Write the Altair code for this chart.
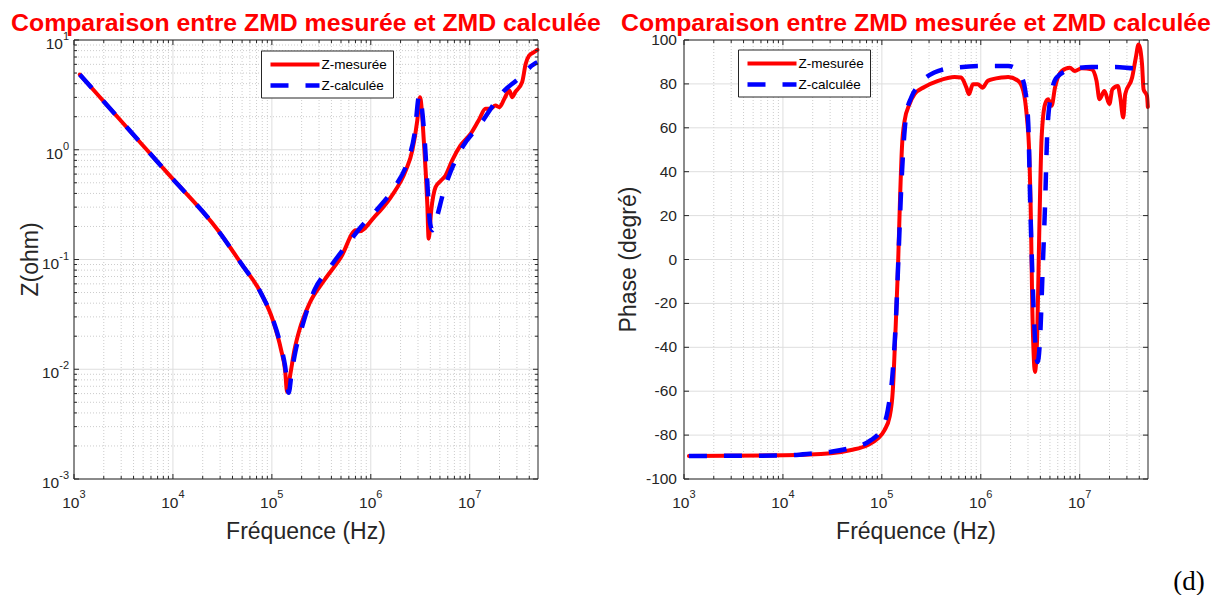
import altair as alt
import pandas as pd

TITLE = "Comparaison entre ZMD mesurée et ZMD calculée"
SERIES = ["Z-mesurée", "Z-calculée"]
COLORS = ["#ff0000", "#0000ff"]
X_TITLE = "Fréquence (Hz)"
Y_TITLES = ["Z(ohm)", "Phase (degré)"]

# ---- Left panel: |Z| (ohm) vs frequency (Hz) ----
zm_freq = [1146, 4797, 8913, 28510, 48980, 77980, 102300, 124200, 136100, 142600,
           154200, 169000, 189700, 239900, 338800, 501200, 707900, 765600, 1.084e6,
           1.596e6, 2.259e6, 2.63e6, 2.951e6, 3.141e6, 3.451e6, 3.724e6, 3.846e6,
           4.083e6, 4.519e6, 5.07e6, 5.702e6, 6.653e6, 8.072e6, 1.023e7, 1.23e7,
           1.445e7, 1.622e7, 1.82e7, 1.995e7, 2.239e7, 2.512e7, 2.692e7, 2.884e7,
           3.388e7, 3.681e7, 3.981e7, 4.467e7, 4.83e7]
zm_val = [4.84, 1.135, 0.605, 0.1845, 0.0918, 0.049, 0.028, 0.0149, 0.0098, 0.00624,
          0.00916, 0.0149, 0.0227, 0.0397, 0.0647, 0.1054, 0.1845, 0.1807, 0.2438,
          0.3707, 0.6486, 0.986, 1.849, 3.013, 1.135, 0.3228, 0.1549,
          0.2805, 0.4571, 0.5188, 0.5834, 0.80, 1.094, 1.40, 1.849,
          2.36, 2.36, 2.53, 2.443, 2.911, 3.467, 3.013, 3.35,
          4.13, 6.067, 7.21, 7.74, 8.13]
zc_freq = [1146, 4797, 8913, 28510, 48980, 77980, 102300, 124200, 136100, 147900,
           158500, 173800, 199500, 269200, 367300, 537000, 794300, 1.175e6, 1.738e6,
           2.377e6, 2.773e6, 3.09e6, 3.467e6, 3.715e6, 3.981e6, 4.207e6, 4.467e6,
           5.495e6, 8.072e6, 1.288e7, 2.239e7, 2.951e7, 4.467e7, 4.83e7]
zc_val = [4.84, 1.135, 0.605, 0.1845, 0.0918, 0.049, 0.0285, 0.0158, 0.0107, 0.00611,
          0.00933, 0.0148, 0.0234, 0.0525, 0.0798, 0.1259, 0.1977, 0.2904, 0.4571,
          0.80, 1.40, 3.119, 1.40, 0.526, 0.2123, 0.1845, 0.2138,
          0.4266, 0.986, 1.726, 3.467, 4.266, 6.026, 6.266]

# ---- Right panel: phase (degrees) vs frequency (Hz) ----
pm_freq = [1122, 10230, 30620, 48870, 72110, 91200, 106400, 119700, 129100, 136500,
           145200, 152100, 159600, 169800, 190500, 213800, 269200, 369800, 544500,
           631000, 716100, 758600, 831800, 933300, 1.047e6, 1.175e6, 1.622e6, 1.892e6,
           2.388e6, 2.692e6, 2.904e6, 3.09e6, 3.214e6, 3.311e6, 3.42e6, 3.524e6,
           3.715e6, 3.89e6, 4.121e6, 4.467e6, 4.786e6, 5.2e6, 5.623e6, 6.577e6,
           7.943e6, 8.913e6, 1.047e7, 1.318e7, 1.479e7, 1.585e7, 1.778e7, 1.995e7,
           2.138e7, 2.427e7, 2.57e7, 2.754e7, 2.884e7, 3.388e7, 3.69e7, 3.936e7,
           4.266e7, 4.416e7, 4.786e7, 4.88e7]
pm_val = [-89.5, -89.2, -88.3, -86.8, -84.5, -81.5, -77.7, -71.7, -59.5, -35.3,
          -5.0, 25.3, 51.0, 63.2, 70.8, 75.3, 78.6, 81.4, 83.2,
          82.9, 78.3, 75.3, 79.8, 79.8, 78.3, 81.4, 82.9, 83.2,
          81.4, 76.8, 66.2, 48.0, 17.7, -20.2, -42.9, -51.2,
          -35.3, 10.0, 55.6, 70.8, 73.0, 70.0, 78.3, 85.9,
          87.4, 85.9, 87.1, 86.7, 81.4, 73.0, 76.8, 70.8,
          77.6, 79.1, 73.8, 64.7, 75.3, 82.9, 92.0, 98.0,
          88.9, 77.6, 74.5, 69.5]
pc_freq = [1122, 10230, 20800, 30620, 48870, 77620, 97720, 114800, 129100, 139600,
           147600, 157000, 166000, 176600, 198200, 239900, 338800, 544500, 1.175e6,
           1.892e6, 2.291e6, 2.57e6, 2.818e6, 3.02e6, 3.162e6, 3.311e6, 3.524e6,
           3.75e6, 3.981e6, 4.217e6, 4.467e6, 4.677e6, 5.012e6, 5.848e6, 8.318e6,
           1.318e7, 2.291e7, 3.467e7, 4.88e7]
pc_val = [-89.5, -89.3, -88.3, -87.6, -85.8, -82.3, -77.7, -68.6, -50.5, -24.7,
          2.6, 32.9, 52.6, 66.2, 73.8, 79.8, 85.2, 87.4, 88.2,
          88.2, 86.7, 83.6, 76.8, 61.7, 25.3, -5.0, -35.3,
          -46.7, -35.3, -5.0, 25.3, 55.6, 72.3, 82.9, 86.7,
          87.7, 87.7, 87.1, 86.8]

# ---- scales, ticks and tick labels ----
X_DOMAIN = [1e3, 4.9e7]
X_MAJOR = [1e3, 1e4, 1e5, 1e6, 1e7]
X_EXP = ["3", "4", "5", "6", "7"]
X_MINOR = [m * 10.0 ** d for d in range(3, 8) for m in range(2, 10) if m * 10.0 ** d <= 4.9e7]
Z_DOMAIN = [1e-3, 1e1]
Z_MAJOR = [1e-3, 1e-2, 1e-1, 1e0, 1e1]
Z_EXP = ["-3", "-2", "-1", "0", "1"]
Z_MINOR = [m * 10.0 ** d for d in range(-3, 1) for m in range(2, 10)]
P_DOMAIN = [-100, 100]
P_MAJOR = [-100, -80, -60, -40, -20, 0, 20, 40, 60, 80, 100]
P_LABELS = ["-100", "-80", "-60", "-40", "-20", "0", "20", "40", "60", "80", "100"]

W, H = 464, 439
FONT = "Liberation Sans"
INK = "#262626"
GRID_MAJOR = "#dedede"
GRID_MINOR = "#cccccc"
LAB = 15.5   # tick label size
EXP = 11     # exponent size


def panel(ytype, ydomain, ymajor, yminor, ylabels, yexp, ytitle, ytitle_x,
          mes_f, mes_v, calc_f, calc_v, lx, ly, extra=None):
    xs = alt.Scale(type="log", domain=X_DOMAIN, nice=False)
    if ytype == "log":
        ys = alt.Scale(type="log", domain=ydomain, nice=False)
    else:
        ys = alt.Scale(type="linear", domain=ydomain, nice=False, zero=False)

    xq = lambda: alt.X("v:Q", scale=xs, axis=None)
    yq = lambda: alt.Y("v:Q", scale=ys, axis=None)

    xmaj = pd.DataFrame({"v": X_MAJOR, "base": ["10"] * len(X_MAJOR), "exp": X_EXP})
    xmin = pd.DataFrame({"v": X_MINOR})
    ymaj = pd.DataFrame({"v": ymajor})
    one = pd.DataFrame({"k": [0]})

    layers = []
    # minor grid (dotted)
    layers.append(alt.Chart(xmin).mark_rule(color=GRID_MINOR, strokeWidth=1, strokeDash=[1, 2])
                  .encode(x=xq()))
    if yminor:
        layers.append(alt.Chart(pd.DataFrame({"v": yminor}))
                      .mark_rule(color=GRID_MINOR, strokeWidth=1, strokeDash=[1, 2]).encode(y=yq()))
    # major grid
    layers.append(alt.Chart(xmaj).mark_rule(color=GRID_MAJOR, strokeWidth=1).encode(x=xq()))
    layers.append(alt.Chart(ymaj).mark_rule(color=GRID_MAJOR, strokeWidth=1).encode(y=yq()))

    # curves
    mes = pd.DataFrame({"f": mes_f, "v": mes_v})
    calc = pd.DataFrame({"f": calc_f, "v": calc_v})
    layers.append(alt.Chart(mes).mark_line(color=COLORS[0], strokeWidth=4, strokeJoin="round",
                                           strokeCap="round", interpolate="monotone")
                  .encode(x=alt.X("f:Q", scale=xs, axis=None), y=alt.Y("v:Q", scale=ys, axis=None)))
    layers.append(alt.Chart(calc).mark_line(color=COLORS[1], strokeWidth=4.5, strokeDash=[18, 17],
                                            strokeJoin="round", interpolate="monotone")
                  .encode(x=alt.X("f:Q", scale=xs, axis=None), y=alt.Y("v:Q", scale=ys, axis=None)))

    # inward ticks on all four sides
    tick = dict(color=INK, strokeWidth=1)
    for df, ln in ((xmaj, 5), (xmin, 3)):
        layers.append(alt.Chart(df).mark_rule(**tick).encode(x=xq(), y=alt.value(H), y2=alt.value(H - ln)))
        layers.append(alt.Chart(df).mark_rule(**tick).encode(x=xq(), y=alt.value(0), y2=alt.value(ln)))
    ydfs = [(ymaj, 5)]
    if yminor:
        ydfs.append((pd.DataFrame({"v": yminor}), 3))
    for df, ln in ydfs:
        layers.append(alt.Chart(df).mark_rule(**tick).encode(y=yq(), x=alt.value(0), x2=alt.value(ln)))
        layers.append(alt.Chart(df).mark_rule(**tick).encode(y=yq(), x=alt.value(W), x2=alt.value(W - ln)))

    # frame
    layers.append(alt.Chart(one).mark_rect(fillOpacity=0, stroke=INK, strokeWidth=1)
                  .encode(x=alt.value(0), x2=alt.value(W), y=alt.value(0), y2=alt.value(H)))

    # x tick labels: "10" with a raised exponent
    layers.append(alt.Chart(xmaj).mark_text(font=FONT, fontSize=LAB, color=INK, align="right",
                                            baseline="middle", dx=5.5)
                  .encode(x=xq(), y=alt.value(H + 24), text="base:N"))
    layers.append(alt.Chart(xmaj).mark_text(font=FONT, fontSize=EXP, color=INK, align="left",
                                            baseline="middle", dx=5.5)
                  .encode(x=xq(), y=alt.value(H + 16), text="exp:N"))

    # y tick labels
    if yexp:
        ylab = pd.DataFrame({"v": ymajor, "base": ["10"] * len(ymajor), "exp": yexp})
        layers.append(alt.Chart(ylab).mark_text(font=FONT, fontSize=EXP, color=INK, align="right",
                                                baseline="middle", dy=-3)
                      .encode(x=alt.value(-5), y=yq(), text="exp:N"))
        layers.append(alt.Chart(ylab).transform_filter("indexof(datum.exp, '-') == 0")
                      .mark_text(font=FONT, fontSize=LAB, color=INK, align="right",
                                 baseline="middle", dy=4)
                      .encode(x=alt.value(-5 - 0.889 * EXP), y=yq(), text="base:N"))
        layers.append(alt.Chart(ylab).transform_filter("indexof(datum.exp, '-') != 0")
                      .mark_text(font=FONT, fontSize=LAB, color=INK, align="right",
                                 baseline="middle", dy=4)
                      .encode(x=alt.value(-5 - 0.556 * EXP), y=yq(), text="base:N"))
    else:
        ylab = pd.DataFrame({"v": ymajor, "lab": ylabels})
        layers.append(alt.Chart(ylab).mark_text(font=FONT, fontSize=LAB, color=INK, align="right",
                                                baseline="middle")
                      .encode(x=alt.value(-7), y=yq(), text="lab:N"))

    # axis titles
    layers.append(alt.Chart(one).mark_text(text=X_TITLE, font=FONT, fontSize=23, color=INK,
                                           align="center", baseline="middle")
                  .encode(x=alt.value(W / 2), y=alt.value(H + 53)))
    layers.append(alt.Chart(one).mark_text(text=ytitle, font=FONT, fontSize=23, color=INK,
                                           align="center", baseline="middle", angle=270)
                  .encode(x=alt.value(ytitle_x), y=alt.value(H / 2)))

    # panel title
    layers.append(alt.Chart(one).mark_text(text=TITLE, font=FONT, fontSize=24.8, fontWeight="bold",
                                           color="#ff0000", align="center", baseline="alphabetic")
                  .encode(x=alt.value(W / 2), y=alt.value(-9)))

    # legend
    layers.append(alt.Chart(one).mark_rect(fill="white", stroke=INK, strokeWidth=1)
                  .encode(x=alt.value(lx), x2=alt.value(lx + 132), y=alt.value(ly), y2=alt.value(ly + 47)))
    layers.append(alt.Chart(one).mark_rule(color=COLORS[0], strokeWidth=4)
                  .encode(x=alt.value(lx + 9), x2=alt.value(lx + 58), y=alt.value(ly + 13.5)))
    layers.append(alt.Chart(one).mark_rule(color=COLORS[1], strokeWidth=4.5, strokeDash=[18, 17])
                  .encode(x=alt.value(lx + 9), x2=alt.value(lx + 58), y=alt.value(ly + 34.5)))
    for i, name in enumerate(SERIES):
        layers.append(alt.Chart(one).mark_text(text=name, font=FONT, fontSize=13.5, color="#000000",
                                               align="left", baseline="middle")
                      .encode(x=alt.value(lx + 60), y=alt.value(ly + 13.5 + 21 * i)))
    if extra is not None:
        layers.append(extra)

    return alt.layer(*layers).properties(width=W, height=H)


label_d = alt.Chart(pd.DataFrame({"k": [0]})).mark_text(
    text="(d)", font="Liberation Serif", fontSize=27, color="#000000",
    align="center", baseline="middle").encode(x=alt.value(505), y=alt.value(542))

left = panel("log", Z_DOMAIN, Z_MAJOR, Z_MINOR, None, Z_EXP, Y_TITLES[0], -42.7,
             zm_freq, zm_val, zc_freq, zc_val, 187.5, 11)
right = panel("linear", P_DOMAIN, P_MAJOR, None, P_LABELS, None, Y_TITLES[1], -55.3,
              pm_freq, pm_val, pc_freq, pc_val, 54.5, 10, extra=label_d)

chart = alt.hconcat(left, right, spacing=146, bounds="flush").properties(
    padding={"left": 3, "top": 3, "right": 0, "bottom": 0}
).configure_view(strokeWidth=0)

chart.save("out.html", embed_options={"renderer": "svg", "actions": False})
